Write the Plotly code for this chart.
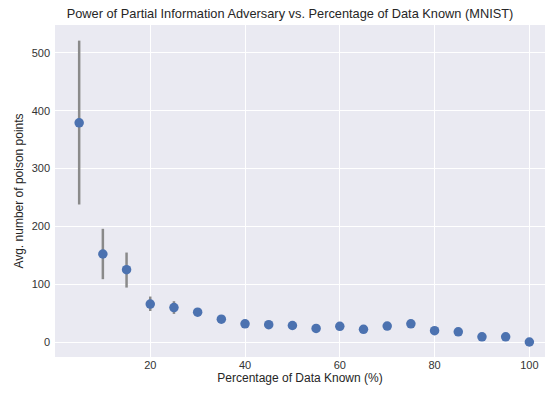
import plotly.graph_objects as go

pct_known = [5, 10, 15, 20, 25, 30, 35, 40, 45, 50, 55, 60, 65, 70, 75, 80, 85, 90, 95, 100]
avg_poison = [379, 152.5, 125.5, 66, 60, 52, 40, 32, 30.5, 29, 24, 27.5, 22.5, 28, 32, 20, 18, 9.5, 9.5, 0.5]
err_plus = [142, 43.5, 29.5, 13, 11, 3, 3, 2, 2, 2, 2, 2, 2, 2, 5, 2, 2, 2, 2, 1]
err_minus = [141, 43.5, 31, 12, 11, 3, 3, 2, 2, 2, 2, 2, 2, 2, 5, 2, 2, 2, 2, 1]

x_ticks = [20, 40, 60, 80, 100]
y_ticks = [0, 100, 200, 300, 400, 500]

fig = go.Figure()
fig.add_trace(go.Scatter(
    x=pct_known, y=avg_poison, mode="markers",
    marker=dict(color="#4C72B0", size=9.5, line=dict(width=0)),
    error_y=dict(type="data", symmetric=False, array=err_plus, arrayminus=err_minus,
                 color="#8a8a8a", thickness=2.5, width=0),
    showlegend=False,
))

font_family = "Liberation Sans, Arial, sans-serif"
fig.update_layout(
    width=545, height=394,
    margin=dict(l=54.5, r=0, t=24.5, b=37.3),
    paper_bgcolor="white", plot_bgcolor="#EAEAF2",
    font=dict(family=font_family, color="#262626"),
    title=dict(text="Power of Partial Information Adversary vs. Percentage of Data Known (MNIST)",
               x=290 / 545, xanchor="center", xref="container",
               y=1 - 14 / 394, yanchor="middle", yref="container",
               font=dict(size=12.8, color="#262626")),
    xaxis=dict(range=[-0.1, 103.3], tickvals=x_ticks, showgrid=True, gridcolor="white",
               gridwidth=1.2, zeroline=False, showline=False, ticks="",
               tickfont=dict(size=11, color="#333333"),
               title=dict(text="Percentage of Data Known (%)", font=dict(size=12, color="#262626"),
                          standoff=3)),
    yaxis=dict(range=[-25.4, 548], tickvals=y_ticks, showgrid=True, gridcolor="white",
               gridwidth=1.2, zeroline=False, showline=False, ticks="",
               tickfont=dict(size=11, color="#333333"), ticklabelstandoff=4,
               title=dict(text="Avg. number of poison points", font=dict(size=12, color="#262626"),
                          standoff=5)),
)

fig.write_html("out.html")
